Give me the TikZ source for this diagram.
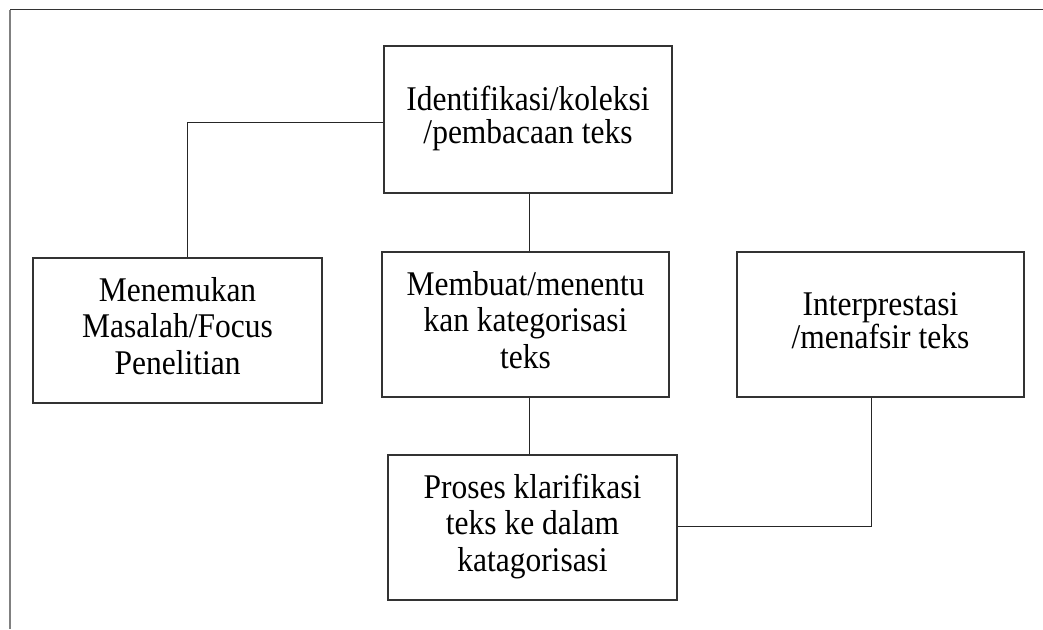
\documentclass[tikz,border=0pt]{standalone}
\usepackage{graphicx}
\usepackage{fontspec}
\setmainfont{Liberation Serif}
\newcommand{\vtext}[1]{\scalebox{1}[1.1]{\begin{tabular}{@{}c@{}}#1\end{tabular}}}
\begin{document}
\begin{tikzpicture}[x=1pt,y=-1pt,
  box/.style={draw=black!80,line width=1.1pt,rectangle,inner sep=0pt,align=center,
    minimum width=288pt,minimum height=145pt},
  wide/.style={font=\fontsize{31.5}{33}\selectfont},
  tight/.style={font=\fontsize{31.5}{26.4}\selectfont},
  conn/.style={draw=black!85,line width=1pt}]
\useasboundingbox (0,0) rectangle (1043,629);
% frame
\draw[black!80,line width=1.3pt] (10,9.8) -- (1043,9.8);
\draw[black!50,line width=1.6pt] (10,9.8) -- (10,629);
% boxes
\node[box,tight,minimum width=288pt,minimum height=147pt] (A) at (528,119.5) {\vtext{Identifikasi/koleksi\\/pembacaan teks}};
\node[box,wide,minimum width=289pt] (B) at (177.5,330.5) {\vtext{Menemukan\\Masalah/Focus\\Penelitian}};
\node[box,wide,minimum width=287pt] (C) at (525.5,324.5) {\vtext{Membuat/menentu\\kan kategorisasi\\teks}};
\node[box,tight,minimum width=287pt] (D) at (880.5,324.5) {\vtext{Interprestasi\\/menafsir teks}};
\node[box,wide,minimum width=289pt] (E) at (532.5,527.5) {\vtext{Proses klarifikasi\\teks ke dalam\\katagorisasi}};
% connectors
\coordinate (ab) at (187,122);
\coordinate (cx) at (529,0);
\coordinate (de) at (871,526);
\draw[conn] (A.west |- ab) -- (ab) -- (ab |- B.north);
\draw[conn] (cx |- A.south) -- (cx |- C.north);
\draw[conn] (cx |- C.south) -- (cx |- E.north);
\draw[conn] (de |- D.south) -- (de) -- (de -| E.east);
\end{tikzpicture}
\end{document}
